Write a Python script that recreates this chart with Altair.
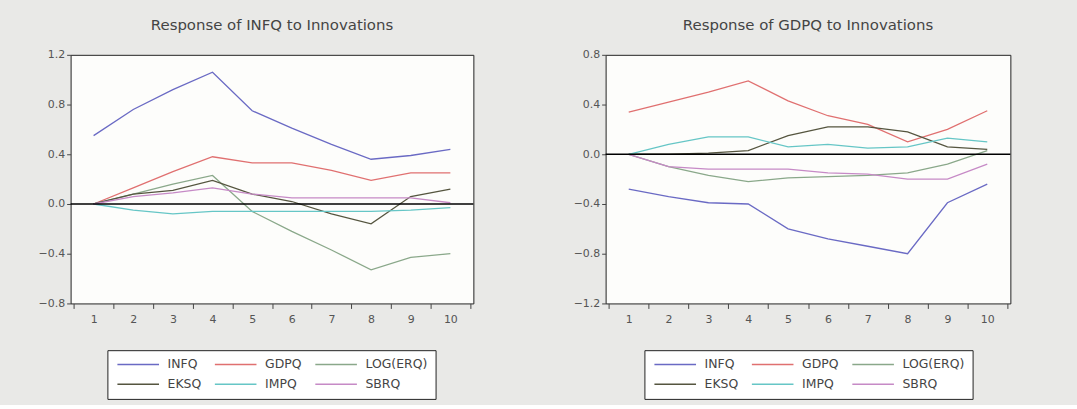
import altair as alt
import pandas as pd

steps = list(range(1, 11))
series = ["INFQ", "GDPQ", "LOG(ERQ)", "EKSQ", "IMPQ", "SBRQ"]
colors = ["#6a6ac4", "#e07070", "#8aa88a", "#55553f", "#66c6c6", "#c68ac6"]

# Response of INFQ to Innovations
infq_infq = [0.55, 0.76, 0.92, 1.06, 0.75, 0.61, 0.48, 0.36, 0.39, 0.44]
infq_gdpq = [0.00, 0.13, 0.26, 0.38, 0.33, 0.33, 0.27, 0.19, 0.25, 0.25]
infq_log = [0.00, 0.08, 0.16, 0.23, -0.06, -0.22, -0.37, -0.53, -0.43, -0.40]
infq_eksq = [0.00, 0.08, 0.11, 0.19, 0.08, 0.02, -0.08, -0.16, 0.06, 0.12]
infq_impq = [0.00, -0.05, -0.08, -0.06, -0.06, -0.06, -0.06, -0.06, -0.05, -0.03]
infq_sbrq = [0.00, 0.06, 0.09, 0.13, 0.08, 0.05, 0.05, 0.05, 0.05, 0.01]

# Response of GDPQ to Innovations
gdpq_infq = [-0.28, -0.34, -0.39, -0.40, -0.60, -0.68, -0.74, -0.80, -0.39, -0.24]
gdpq_gdpq = [0.34, 0.42, 0.50, 0.59, 0.43, 0.31, 0.24, 0.10, 0.20, 0.35]
gdpq_log = [0.00, -0.10, -0.17, -0.22, -0.19, -0.18, -0.17, -0.15, -0.08, 0.03]
gdpq_eksq = [0.00, 0.00, 0.01, 0.03, 0.15, 0.22, 0.22, 0.18, 0.06, 0.04]
gdpq_impq = [0.00, 0.08, 0.14, 0.14, 0.06, 0.08, 0.05, 0.06, 0.13, 0.10]
gdpq_sbrq = [0.00, -0.10, -0.12, -0.12, -0.12, -0.15, -0.16, -0.20, -0.20, -0.08]

left_ticks = [-0.8, -0.4, 0.0, 0.4, 0.8, 1.2]
right_ticks = [-1.2, -0.8, -0.4, 0.0, 0.4, 0.8]

FONT = "DejaVu Sans"


def long_df(cols):
    rows = []
    for name, vals in zip(series, cols):
        for s, v in zip(steps, vals):
            rows.append({"step": s, "series": name, "value": v})
    return pd.DataFrame(rows)


def panel(cols, title, ticks, width, legend_x):
    df = long_df(cols)
    lines = alt.Chart(df).mark_line(strokeWidth=1.3).encode(
        x=alt.X(
            "step:O",
            scale=alt.Scale(paddingInner=0, paddingOuter=0.08),
            axis=alt.Axis(title=None, labelAngle=0, tickBand="extent", tickSize=5,
                          labelPadding=5, domain=False, grid=False),
        ),
        y=alt.Y(
            "value:Q",
            scale=alt.Scale(domain=[ticks[0], ticks[-1]], nice=False, zero=False),
            axis=alt.Axis(title=None, values=ticks, format=".1f", tickSize=4,
                          labelPadding=2, domain=False, grid=False,
                          minExtent=40, maxExtent=40),
        ),
        color=alt.Color(
            "series:N",
            scale=alt.Scale(domain=series, range=colors),
            legend=alt.Legend(
                title=None, orient="none", legendX=legend_x, legendY=297,
                direction="horizontal", columns=3, symbolType="M-1,0L9,0",
                symbolSize=70, symbolStrokeWidth=1.5, labelFontSize=12.5,
                labelFont=FONT, labelColor="#444", strokeColor="#222",
                fillColor="white", padding=8, columnPadding=10, rowPadding=7,
                labelOffset=40,
            ),
        ),
    )
    zero = alt.Chart(pd.DataFrame({"z": [0.0]})).mark_rule(
        color="black", strokeWidth=1.5
    ).encode(y="z:Q")
    return alt.layer(lines, zero).properties(
        width=width, height=250,
        title=alt.TitleParams(title, fontSize=15, font=FONT, fontWeight="normal",
                              color="#444", offset=16),
    )


left = panel([infq_infq, infq_gdpq, infq_log, infq_eksq, infq_impq, infq_sbrq],
             "Response of INFQ to Innovations", left_ticks, 405, 37)
right = panel([gdpq_infq, gdpq_gdpq, gdpq_log, gdpq_eksq, gdpq_impq, gdpq_sbrq],
              "Response of GDPQ to Innovations", right_ticks, 407, 39)

chart = alt.hconcat(left, right, spacing=90).resolve_scale(
    color="independent"
).resolve_legend(color="independent").properties(
    background="#e9e9e7",
    padding={"left": 30, "top": 16, "right": 65, "bottom": 4},
).configure_view(stroke="#222", strokeWidth=1, fill="#fdfdfb").configure_axis(
    labelFont=FONT, labelFontSize=11, labelColor="#555", tickColor="#444"
)

chart.save("out.html", embed_options={"renderer": "svg", "actions": False})
